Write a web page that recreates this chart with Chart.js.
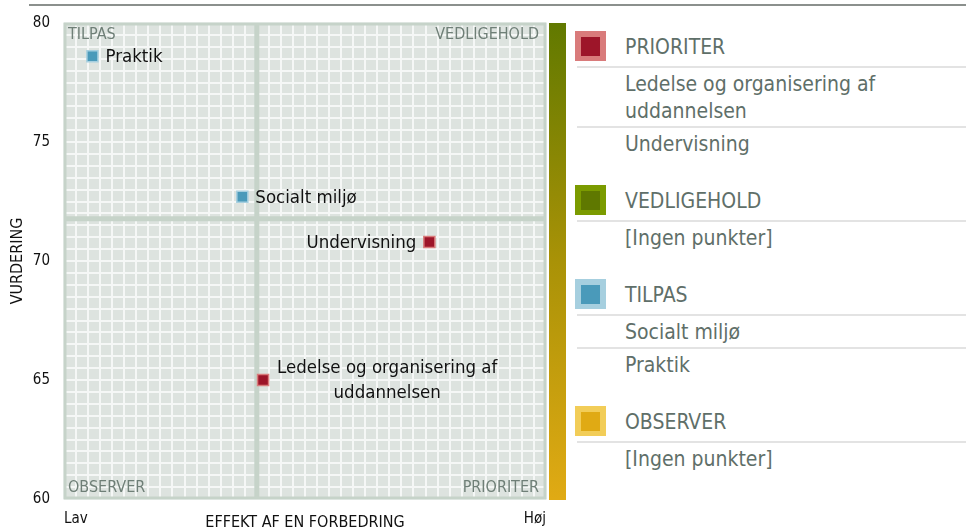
<!DOCTYPE html>
<html>
<head>
<meta charset="utf-8">
<script src="https://cdn.jsdelivr.net/npm/chart.js@4.4.1/dist/chart.umd.min.js"></script>
<style>
body{margin:0;width:966px;height:530px;overflow:hidden;background:#fff;position:relative;font-family:"DejaVu Sans Condensed","DejaVu Sans",sans-serif;}
#topline{position:absolute;left:29px;top:4px;width:937px;height:2px;background:#8b908d;}
#chartbox{position:absolute;left:0;top:0;width:570px;height:530px;}
#legend{position:absolute;left:575px;top:31px;width:391px;color:#5f6f69;font-size:21px;}
.grp{margin-bottom:26.5px;}
.hdr{position:relative;margin-left:2px;height:34.5px;line-height:32px;padding-left:48px;border-bottom:2.5px solid #e3e3e3;}
.mk{position:absolute;left:-2px;top:0;width:31px;height:30px;}
.mk i{position:absolute;left:6px;top:6px;width:19px;height:19px;}
.item{margin-left:2px;padding-left:48px;padding-top:3px;padding-bottom:1px;line-height:27px;border-bottom:2.5px solid #e3e3e3;}
.item:last-child{border-bottom:none;}
</style>
</head>
<body>
<div id="topline"></div>
<div id="chartbox"><canvas id="chart" width="570" height="530"></canvas></div>
<div id="legend"></div>
<script>
// DATA
const categories = ['Ledelse og organisering af uddannelsen', 'Undervisning', 'Socialt miljø', 'Praktik'];
const effekt = [41.3, 75.8, 37.0, 5.9];       // x: Lav (0) -> Høj (100)
const vurdering = [65.0, 70.8, 72.7, 78.6];   // y
const xTickLabels = ['Lav', 'Høj'];
const yMin = 60, yMax = 80;
const quadrants = ['PRIORITER', 'VEDLIGEHOLD', 'TILPAS', 'OBSERVER'];
const noPoints = '[Ingen punkter]';

// styles
const FONT = '"DejaVu Sans Condensed", "DejaVu Sans", sans-serif';
const quadFill = {PRIORITER: '#9d1529', VEDLIGEHOLD: '#5f7800', TILPAS: '#4a9aba', OBSERVER: '#e0aa14'};
const quadLight = {PRIORITER: '#d97b7b', VEDLIGEHOLD: '#7b9b00', TILPAS: '#a6cfdf', OBSERVER: '#f2cd58'};
const labelSide = ['right', 'left', 'right', 'right'];

// midlines = average of the points
const midX = effekt.reduce((a, b) => a + b, 0) / effekt.length;
const midY = vurdering.reduce((a, b) => a + b, 0) / vurdering.length;

function quadrantOf(i) {
  const hiX = effekt[i] >= midX, hiY = vurdering[i] >= midY;
  if (hiX && !hiY) return 'PRIORITER';
  if (hiX && hiY) return 'VEDLIGEHOLD';
  if (!hiX && hiY) return 'TILPAS';
  return 'OBSERVER';
}

// LEGEND
const legendDiv = document.getElementById('legend');
quadrants.forEach(q => {
  const grp = document.createElement('div');
  grp.className = 'grp';
  const hdr = document.createElement('div');
  hdr.className = 'hdr';
  hdr.innerHTML = `<span class="mk" style="background:${quadLight[q]}"><i style="background:${quadFill[q]}"></i></span>${q}`;
  grp.appendChild(hdr);
  const names = categories.filter((c, i) => quadrantOf(i) === q);
  (names.length ? names : [noPoints]).forEach(n => {
    const it = document.createElement('div');
    it.className = 'item';
    it.textContent = n;
    grp.appendChild(it);
  });
  legendDiv.appendChild(grp);
});

// wraps text in lines no wider than maxW
function wrapText(ctx, text, maxW) {
  const words = text.split(' ');
  const lines = [];
  let cur = '';
  words.forEach(w => {
    const t = cur ? cur + ' ' + w : w;
    if (cur && ctx.measureText(t).width > maxW) { lines.push(cur); cur = w; } else cur = t;
  });
  lines.push(cur);
  return lines;
}

const quadrantPlugin = {
  id: 'quadrant',
  beforeDraw(chart) {
    const {ctx, chartArea: a} = chart;
    ctx.save();
    ctx.fillStyle = '#dde3df';
    ctx.fillRect(a.left, a.top, a.right - a.left, a.bottom - a.top);
    // colour bar
    const g = ctx.createLinearGradient(0, a.top, 0, a.bottom);
    g.addColorStop(0, '#617900');
    g.addColorStop(0.5, '#a99207');
    g.addColorStop(1, '#e0aa14');
    ctx.fillStyle = g;
    ctx.fillRect(a.right + 3, a.top, 17, a.bottom - a.top + 1);
    ctx.restore();
  },
  beforeDatasetsDraw(chart) {
    const {ctx, chartArea: a, scales: {x, y}} = chart;
    const mx = x.getPixelForValue(midX), my = y.getPixelForValue(midY);
    ctx.save();
    ctx.strokeStyle = '#c6d3c9';
    ctx.lineWidth = 5;
    ctx.beginPath();
    ctx.moveTo(mx, a.top); ctx.lineTo(mx, a.bottom);
    ctx.moveTo(a.left, my); ctx.lineTo(a.right, my);
    ctx.stroke();
    ctx.lineWidth = 3;
    ctx.strokeRect(a.left + 1, a.top + 1, a.right - a.left - 2, a.bottom - a.top - 2);
    // quadrant names
    ctx.fillStyle = '#6f7f77';
    ctx.font = '16px ' + FONT;
    ctx.textBaseline = 'middle';
    ctx.textAlign = 'left';
    ctx.fillText(quadrants[2], a.left + 4, a.top + 12);
    ctx.fillText(quadrants[3], a.left + 4, a.bottom - 11);
    ctx.textAlign = 'right';
    ctx.fillText(quadrants[1], a.right - 7, a.top + 12);
    ctx.fillText(quadrants[0], a.right - 7, a.bottom - 11);
    ctx.restore();
  },
  afterDatasetsDraw(chart) {
    const {ctx, scales: {x, y}} = chart;
    ctx.save();
    ctx.font = '18.5px ' + FONT;
    ctx.fillStyle = '#111';
    ctx.textBaseline = 'middle';
    categories.forEach((c, i) => {
      const px = x.getPixelForValue(effekt[i]), py = y.getPixelForValue(vurdering[i]);
      const lines = wrapText(ctx, c, 240);
      const lh = 25;
      const blockW = Math.max(...lines.map(l => ctx.measureText(l).width));
      const top = py - (lines.length - 1) * lh / 2 + 1;
      lines.forEach((l, k) => {
        if (labelSide[i] === 'left') {
          ctx.textAlign = 'right';
          ctx.fillText(l, px - 13, top + k * lh);
        } else if (lines.length > 1) {
          ctx.textAlign = 'center';
          ctx.fillText(l, px + 14 + blockW / 2, top + k * lh);
        } else {
          ctx.textAlign = 'left';
          ctx.fillText(l, px + 13, top + k * lh);
        }
      });
    });
    ctx.restore();
  },
  afterDraw(chart) {
    const {ctx, chartArea: a} = chart;
    ctx.save();
    ctx.fillStyle = '#111';
    ctx.font = '16px ' + FONT;
    ctx.textAlign = 'center';
    ctx.textBaseline = 'middle';
    ctx.fillText('EFFEKT AF EN FORBEDRING', (a.left + a.right) / 2, 523);
    ctx.translate(18, (a.top + a.bottom) / 2);
    ctx.rotate(-Math.PI / 2);
    ctx.fillText('VURDERING', 0, 0);
    ctx.restore();
  }
};

Chart.defaults.font.family = FONT;

const datasets = quadrants.map(q => {
  const idx = categories.map((c, i) => i).filter(i => quadrantOf(i) === q);
  return {
    label: q,
    data: idx.map(i => ({x: effekt[i], y: vurdering[i]})),
    pointStyle: 'rect',
    pointRadius: 7.8,
    pointHoverRadius: 7.8,
    backgroundColor: quadFill[q],
    borderColor: quadLight[q],
    borderWidth: 1.5
  };
});

new Chart(document.getElementById('chart'), {
  type: 'scatter',
  data: {datasets: datasets},
  options: {
    responsive: false,
    animation: false,
    devicePixelRatio: 1,
    layout: {padding: {left: 0, top: 21, right: 24, bottom: 0}},
    plugins: {legend: {display: false}, tooltip: {enabled: false}},
    scales: {
      x: {
        min: 0, max: 100,
        afterFit: s => { s.height = 31; },
        border: {display: false},
        grid: {color: '#f5f7f6', lineWidth: 2, drawTicks: false},
        ticks: {
          stepSize: 2.5, autoSkip: false, maxRotation: 0, minRotation: 0,
          align: 'inner', padding: 11, color: '#111', font: {size: 15},
          callback: v => v === 0 ? xTickLabels[0] : (v === 100 ? xTickLabels[1] : '')
        }
      },
      y: {
        min: yMin, max: yMax,
        afterFit: s => { s.width = 64; },
        border: {display: false},
        grid: {color: '#f5f7f6', lineWidth: 2, drawTicks: false},
        ticks: {
          stepSize: 0.5, autoSkip: false, padding: 14, color: '#111', font: {size: 15},
          callback: v => v % 5 === 0 ? v : ''
        }
      }
    }
  },
  plugins: [quadrantPlugin]
});
</script>
</body>
</html>
